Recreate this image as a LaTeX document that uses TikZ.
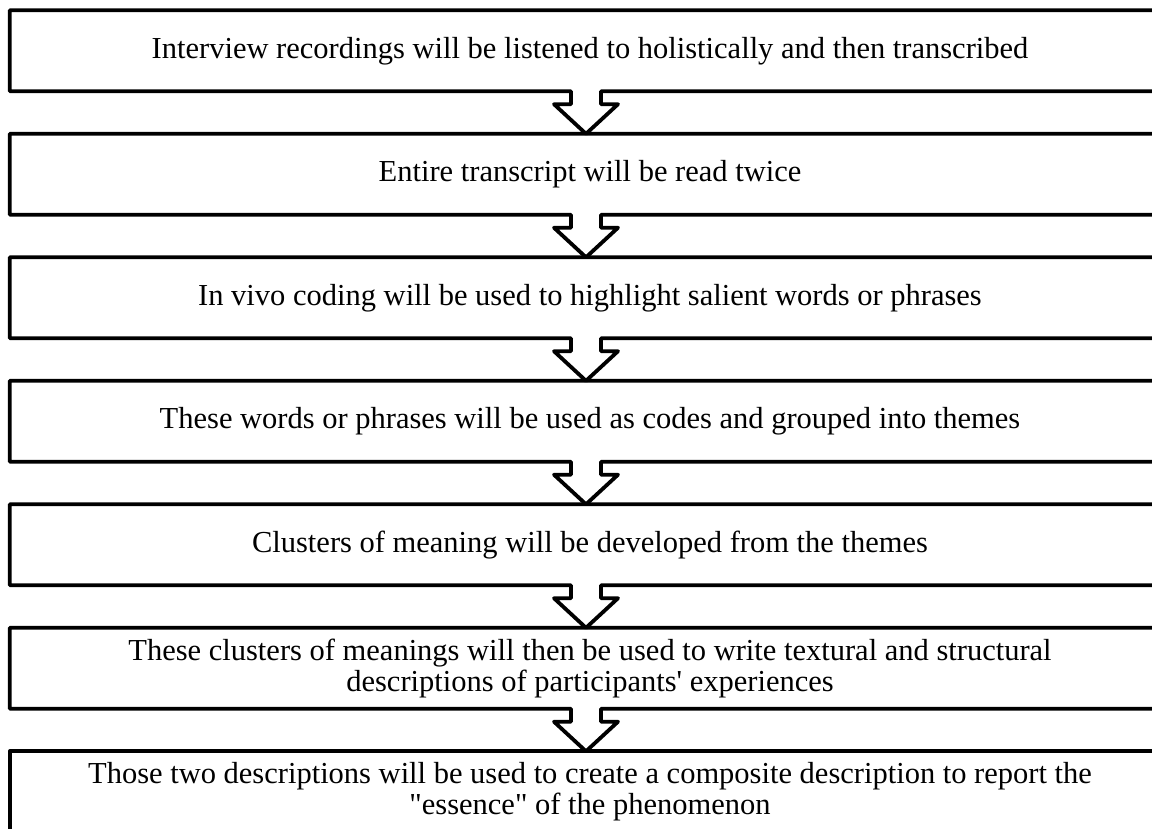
\documentclass[tikz,border=0pt]{standalone}
\usepackage{fontspec}
\setmainfont{Liberation Serif}[Ligatures=TeXOff]
\usetikzlibrary{calc}
\newcommand{\stagefont}{\fontsize{30.5pt}{31pt}\selectfont}
\tikzset{
  stage/.style={minimum width=1160pt, minimum height=80.5pt, inner sep=0pt,
    align=center, font=\stagefont, text=black},
  outline/.style={line width=3.8pt, line join=round, draw=black}
}
\begin{document}
\begin{tikzpicture}[x=1pt, y=-1pt]
  \useasboundingbox (0,0) rectangle (1152,828);
  \clip (0,0) rectangle (1152,828);
  \fill[white] (0,0) rectangle (1152,828);

  % stage texts, boxes spaced 123.5 apart
  \node[stage] (b1) at (590, 50.75)  {Interview recordings will be listened to holistically and then transcribed};
  \node[stage] (b2) at (590, 174.25) {Entire transcript will be read twice};
  \node[stage] (b3) at (590, 297.75) {In vivo coding will be used to highlight salient words or phrases};
  \node[stage] (b4) at (590, 421.25) {These words or phrases will be used as codes and grouped into themes};
  \node[stage] (b5) at (590, 544.75) {Clusters of meaning will be developed from the themes};
  \node[stage] (b6) at (590, 668.25) {These clusters of meanings will then be used to write textural and structural\\descriptions of participants' experiences};
  \node[stage] (b7) at (590, 791.75) {Those two descriptions will be used to create a composite description to report the\\"essence" of the phenomenon};

  % horizontal position of the block arrows
  \coordinate (ax) at (586,0);

  % each box outline runs into a block arrow pointing at the next box
  \foreach \a/\b in {b1/b2, b2/b3, b3/b4, b4/b5, b5/b6, b6/b7} {
    \draw[outline]
      (\a.south east) -- (\a.north east) -- (\a.north west) -- (\a.south west)
      -- ($(\a.south -| ax)+(-15,0)$) -- ++(0,13) -- ++(-17,0)
      -- (\b.north -| ax)
      -- ($(\a.south -| ax)+(32,13)$) -- ++(-17,0) -- ++(0,-13)
      -- cycle;
  }
  \draw[outline] (b7.south west) rectangle (b7.north east);
\end{tikzpicture}
\end{document}
